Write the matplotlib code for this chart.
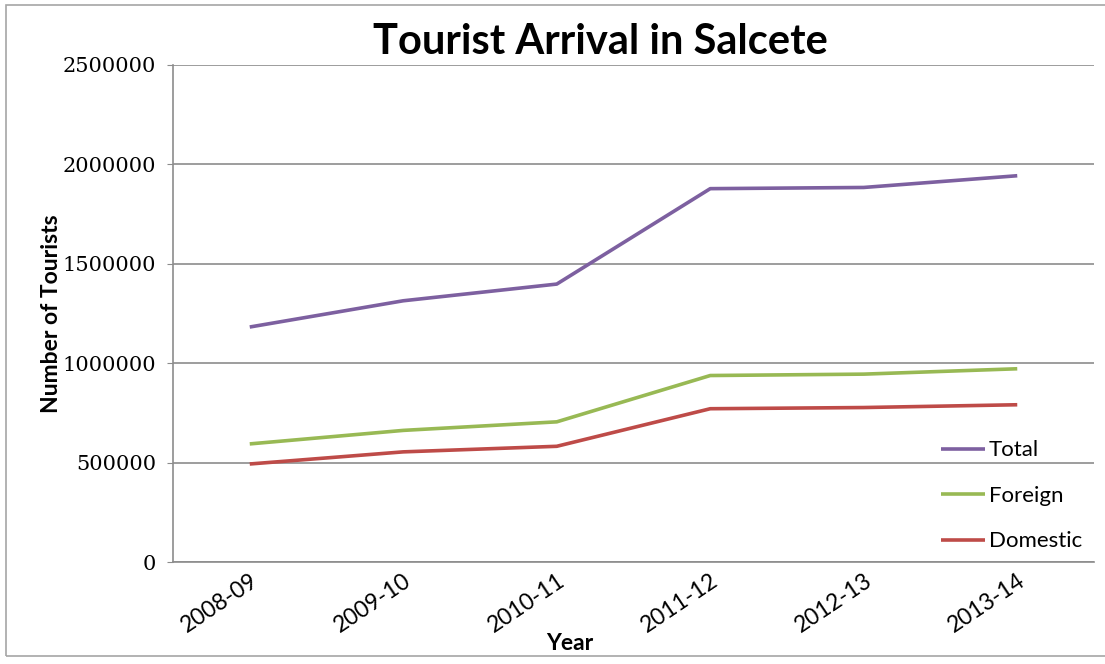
import matplotlib.pyplot as plt
from matplotlib.patches import Rectangle

# Tourist arrivals per financial year
years = ["2008-09", "2009-10", "2010-11", "2011-12", "2012-13", "2013-14"]
total = [1182000, 1314000, 1398000, 1878000, 1884000, 1943000]
foreign = [594000, 662000, 705000, 938000, 945000, 972000]
domestic = [493000, 554000, 582000, 771000, 777000, 791000]

y_ticks = [0, 500000, 1000000, 1500000, 2000000, 2500000]

PURPLE = "#7D60A0"
GREEN = "#98B954"
RED = "#BE4B48"
GRID = "#8C8C8C"

fig = plt.figure(figsize=(11.05, 6.64), dpi=100)
fig.patch.set_facecolor("white")

# chart frame
fig.patches.append(Rectangle((6 / 1105, 8 / 664), 1.0, 651 / 664, transform=fig.transFigure,
                             fill=False, edgecolor="#A6A6A6", linewidth=1.2))

ax = fig.add_axes([173 / 1105, 1 - 562 / 664, (1094 - 173) / 1105, (562 - 65) / 664])

x = range(len(years))
ax.plot(x, total, color=PURPLE, lw=2.6, label="Total", solid_capstyle="butt")
ax.plot(x, foreign, color=GREEN, lw=2.6, label="Foreign", solid_capstyle="butt")
ax.plot(x, domestic, color=RED, lw=2.6, label="Domestic", solid_capstyle="butt")

ax.set_xlim(-0.5, len(years) - 0.5)
ax.set_ylim(0, 2500000)
ax.set_yticks(y_ticks)
ax.set_yticklabels([str(v) for v in y_ticks], family="DejaVu Serif", fontsize=15)
ax.set_xticks(list(x))
ax.set_xticklabels(years, rotation=34, ha="right", rotation_mode="anchor",
                   family="Lato", fontsize=16.5)
ax.tick_params(axis="x", length=0, pad=6)
ax.tick_params(axis="y", length=4, color=GRID, pad=8)

ax.grid(axis="y", color=GRID, lw=1.2)
ax.set_axisbelow(True)
for side in ["top", "right"]:
    ax.spines[side].set_visible(False)
for side in ["left", "bottom"]:
    ax.spines[side].set_color(GRID)
    ax.spines[side].set_linewidth(1.2)

ax.set_title("Tourist Arrival in Salcete", family="Lato", fontweight="bold", fontsize=30, pad=8,
             x=(600 - 173) / 921)
ax.set_ylabel("Number of Tourists", family="Lato", fontweight="bold", fontsize=16.5)
ax.yaxis.set_label_coords(-0.121, 0.5)
ax.set_xlabel("Year", family="Lato", fontweight="bold", fontsize=16.5)
ax.xaxis.set_label_coords((570 - 173) / 921, -0.143)

leg = ax.legend(loc="center left", bbox_to_anchor=((921 - 173) / 921, 0.133), frameon=False,
                prop={"family": "Lato", "size": 16}, handlelength=2.0, handletextpad=0.15,
                labelspacing=1.15)

fig.savefig("out.png", dpi=100)
